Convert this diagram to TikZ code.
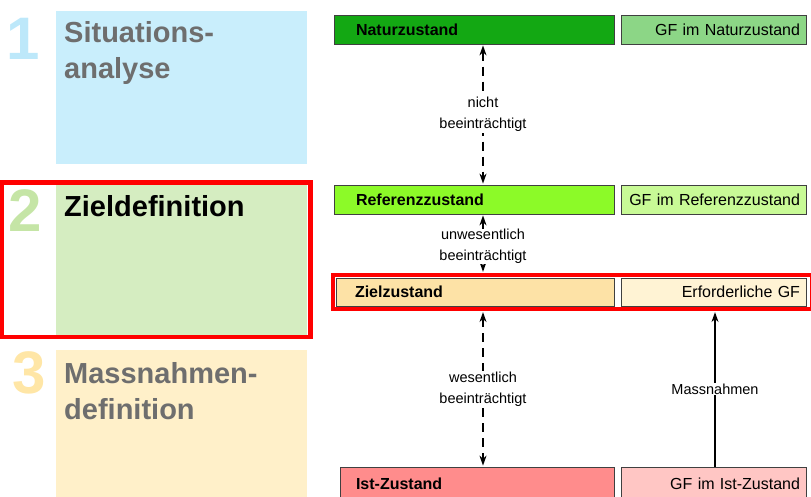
\documentclass[tikz,border=0pt]{standalone}
\usepackage{fontspec}
\setmainfont{Liberation Sans}
\usetikzlibrary{arrows.meta, positioning, calc}

\definecolor{natgreen}{HTML}{13A813}
\definecolor{natlight}{HTML}{8CD686}
\definecolor{refgreen}{HTML}{8CFA28}
\definecolor{reflight}{HTML}{C8FA96}
\definecolor{zielorange}{HTML}{FDE2A6}
\definecolor{ziellight}{HTML}{FFF3D4}
\definecolor{istred}{HTML}{FF8C8C}
\definecolor{istlight}{HTML}{FFC6C4}
\definecolor{sitblue}{HTML}{C9EEFC}
\definecolor{sitnum}{HTML}{BDE8FA}
\definecolor{defgreen}{HTML}{D5EDC1}
\definecolor{defnum}{HTML}{C5E5A6}
\definecolor{masscream}{HTML}{FFF0C9}
\definecolor{massnum}{HTML}{FFE6A6}
\definecolor{headgray}{HTML}{6E6E6E}

\begin{document}
\begin{tikzpicture}[x=1pt, y=-1pt,
  zbox/.style={draw=black!75, line width=0.8pt, minimum height=29pt,
    text width=236pt, inner xsep=22pt, inner ysep=0pt, align=left,
    font=\fontsize{16}{18}\selectfont\bfseries},
  gfbox/.style={draw=black!75, line width=0.8pt, minimum height=29pt,
    text width=173pt, inner xsep=6pt, inner ysep=0pt, align=right,
    font=\fontsize{16}{18}\selectfont},
  phase/.style={anchor=north west, minimum width=251pt, inner sep=0pt},
  head/.style={anchor=base west, inner sep=0pt,
    font=\fontsize{29}{35}\selectfont\bfseries},
  num/.style={anchor=base west, inner sep=0pt,
    font=\fontsize{60}{60}\selectfont\bfseries},
  lbl/.style={fill=white, align=center, inner sep=1pt,
    font=\fontsize{14.5}{21}\selectfont},
  arr/.style={-{Stealth[length=10pt, width=7pt]}, line width=1.4pt},
  darr/.style={{Stealth[length=10pt, width=7pt]}-{Stealth[length=10pt, width=7pt]},
    line width=1.4pt, dash pattern=on 9pt off 6pt},
  redframe/.style={draw=red, line width=4.2pt}
]
  \useasboundingbox (0,0) rectangle (811,497);
  \clip (0,0) rectangle (811,497);

  % Phasen links
  \node[phase, fill=sitblue, minimum height=153pt] (sit) at (56,11) {};
  \node[phase, fill=defgreen, minimum height=152pt] (def) at (56,184) {};
  \node[phase, fill=masscream, minimum height=150pt] (mass) at (56,350) {};

  \node[num, text=sitnum] (n1) at (6,60) {1};
  \node[num, text=defnum] (n2) at (8,232) {2};
  \node[num, text=massnum] (n3) at (12,393) {3};

  \node[head, text=headgray] (sit1) at (64,43) {Situations-};
  \node[head, text=headgray] (sit2) at (64,79) {analyse};
  \node[head] (def1) at (64,217) {Zieldefinition};
  \node[head, text=headgray] (mass1) at (64,383) {Massnahmen-};
  \node[head, text=headgray] (mass2) at (64,419) {definition};

  \draw[redframe] (2,182.5) rectangle (310.5,337);

  % Zustaende rechts
  \node[zbox, fill=natgreen] (natur) at (474,29.5) {Naturzustand};
  \node[gfbox, fill=natlight] (naturgf) at (713.5,29.5) {GF im Naturzustand};
  \node[zbox, fill=refgreen] (ref) at (474,199.5) {Referenzzustand};
  \node[gfbox, fill=reflight] (refgf) at (713.5,199.5) {GF im Referenzzustand};
  \node[zbox, fill=zielorange, minimum height=28pt, text width=240pt,
    inner xsep=19pt] (ziel) at (475,292) {Zielzustand};
  \node[gfbox, fill=ziellight, minimum height=28pt] (zielgf) at (713.5,292) {Erforderliche GF};
  \node[zbox, fill=istred, minimum height=33pt, text width=242pt,
    inner xsep=16pt] (ist) at (477,483.5) {Ist-Zustand};
  \node[gfbox, fill=istlight, minimum height=33pt] (istgf) at (713.5,483.5) {GF im Ist-Zustand};

  \node[redframe, minimum width=479pt, minimum height=34pt, inner sep=0pt] (zframe) at (572.5,292) {};

  % Pfeile
  \coordinate (ax) at (483,0);
  \coordinate (mx) at (715,0);
  \draw[darr, shorten <=1pt, shorten >=1pt] (natur.south -| ax) --
    node[lbl] (l1) {nicht\\beeinträchtigt} (ref.north -| ax);
  \draw[darr, shorten <=1pt, shorten >=1pt] (ref.south -| ax) --
    node[lbl, pos=0.55, inner ysep=0pt] (l2) {unwesentlich\\beeinträchtigt} (zframe.north -| ax);
  \draw[darr, shorten <=1pt, shorten >=1pt] (zframe.south -| ax) --
    node[lbl] (l3) {wesentlich\\beeinträchtigt} (ist.north -| ax);
  \draw[arr, shorten >=1pt] (istgf.north -| mx) --
    node[lbl] (l4) {Massnahmen} (zframe.south -| mx);
\end{tikzpicture}
\end{document}
